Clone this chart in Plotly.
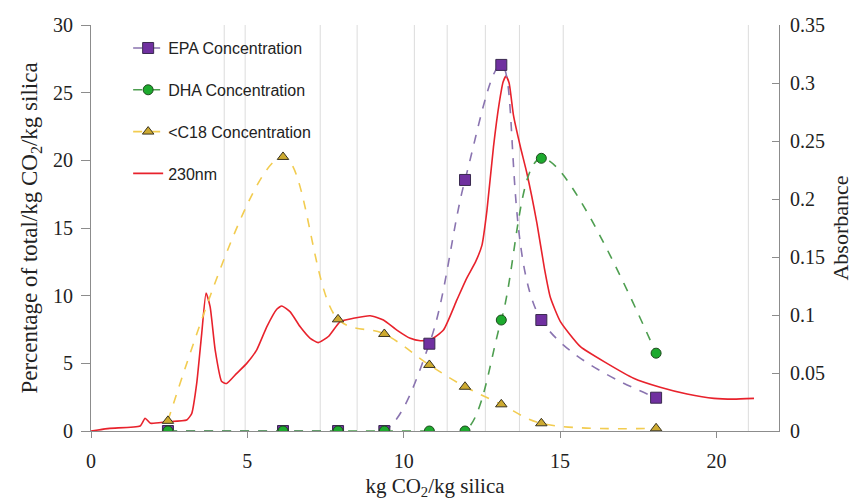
import plotly.graph_objects as go

# Sample positions (kg CO2 / kg silica)
sample_x = [2.46, 6.14, 7.90, 9.38, 10.82, 11.96, 13.12, 14.40, 18.07]

epa_pct = [0, 0, 0, 0, 6.45, 18.55, 27.05, 8.2, 2.46]
dha_pct = [0, 0, 0, 0, 0, 0, 8.2, 20.15, 5.75]
c18_pct = [0.75, 20.25, 8.25, 7.17, 4.88, 3.27, 1.97, 0.57, 0.2]

# 230 nm absorbance trace
abs_x = [0.0, 0.6, 1.57, 1.73, 1.9, 2.42, 3.06, 3.22, 3.38, 3.54, 3.68, 3.81, 3.97,
         4.18, 4.34, 4.66, 4.98, 5.3, 5.62, 5.94, 6.1, 6.37, 6.69, 7.01, 7.27, 7.6,
         7.97, 8.39, 8.93, 9.35, 9.78, 10.21, 10.53, 10.85, 11.27, 11.7, 12.0, 12.3,
         12.5, 12.66, 12.87, 13.05, 13.18, 13.27, 13.37, 13.51, 13.73, 13.94, 14.26,
         14.5, 14.69, 15.01, 15.65, 16.5, 17.35, 18.2, 19.06, 19.92, 20.55, 21.2]
abs_y = [0.0, 0.0023, 0.0043, 0.011, 0.0067, 0.008, 0.0095, 0.015, 0.041, 0.084,
         0.119, 0.107, 0.070, 0.0426, 0.041, 0.0497, 0.0583, 0.070, 0.0898, 0.105,
         0.1078, 0.1027, 0.0898, 0.0799, 0.0762, 0.0817, 0.0943, 0.0972, 0.0994,
         0.0957, 0.087, 0.0799, 0.0778, 0.0785, 0.087, 0.113, 0.131, 0.146, 0.160,
         0.190, 0.245, 0.282, 0.301, 0.306, 0.300, 0.272, 0.245, 0.222, 0.179,
         0.140, 0.115, 0.0943, 0.0727, 0.0583, 0.0455, 0.0377, 0.0319, 0.0281,
         0.0275, 0.0281]

# Irregular vertical gridlines of the original chart
grid_x = [4.26, 4.93, 7.33, 8.51, 10.34, 11.39, 12.61, 13.70, 15.10, 21.02]

serif = "Liberation Serif, Times New Roman, serif"
sans = "Liberation Sans, Arial, sans-serif"
txt = "#222222"
axc = "#8C8C8C"

fig = go.Figure()

fig.add_trace(go.Scatter(
    x=abs_x, y=abs_y, name="230nm", mode="lines", yaxis="y",
    line=dict(color="#E8222C", width=1.6, shape="spline", smoothing=0.5),
    legendgroup="d", legendrank=4))

fig.add_trace(go.Scatter(
    x=sample_x, y=epa_pct, name="EPA Concentration", mode="lines+markers", yaxis="y2",
    line=dict(color="#8A74B0", width=1.6, dash="dash", shape="spline", smoothing=1),
    marker=dict(symbol="square", size=11, color="#7030A0", line=dict(color="#3A2A50", width=1)),
    legendgroup="a", legendrank=1))

fig.add_trace(go.Scatter(
    x=sample_x, y=dha_pct, name="DHA Concentration", mode="lines+markers", yaxis="y2",
    line=dict(color="#4E9E50", width=1.6, dash="dash", shape="spline", smoothing=1),
    marker=dict(symbol="circle", size=10, color="#1DAA2E", line=dict(color="#1E4A1E", width=1)),
    legendgroup="b", legendrank=2))

fig.add_trace(go.Scatter(
    x=sample_x, y=c18_pct, name="<C18 Concentration", mode="lines+markers", yaxis="y2",
    line=dict(color="#F2CC50", width=1.6, dash="dash", shape="spline", smoothing=1),
    marker=dict(symbol="triangle-up", size=10, color="#CDAA30", line=dict(color="#3A3420", width=1)),
    legendgroup="c", legendrank=3))

shapes = [dict(type="line", xref="x", yref="paper", x0=g, x1=g, y0=0, y1=1,
               line=dict(color="#DCDCDC", width=1), layer="below") for g in grid_x]

fig.update_layout(
    width=860, height=492,
    margin=dict(l=83, r=89, t=17, b=69, autoexpand=False),
    paper_bgcolor="white", plot_bgcolor="white",
    shapes=shapes,
    showlegend=True,
    legend=dict(x=0.054, y=0.985, xanchor="left", yanchor="top",
                font=dict(family=sans, size=16, color=txt),
                traceorder="grouped", tracegroupgap=18, itemwidth=30,
                bgcolor="rgba(0,0,0,0)"),
    xaxis=dict(range=[0, 22], tickvals=[0, 5, 10, 15, 20], showgrid=False, zeroline=False,
               automargin=False,
               showline=True, linecolor=axc, linewidth=1, ticks="outside", ticklen=6,
               tickcolor=axc, tickfont=dict(family=serif, size=20, color=txt), ticklabelstandoff=6,
               title=dict(text="kg CO<sub>2</sub>/kg silica", font=dict(family=serif, size=21, color=txt),
                          standoff=12)),
    yaxis=dict(range=[0, 0.35], tickvals=[0, 0.05, 0.1, 0.15, 0.2, 0.25, 0.3, 0.35],
               ticktext=["0", "0.05", "0.1", "0.15", "0.2", "0.25", "0.3", "0.35"],
               automargin=False,
               side="right", showgrid=False, zeroline=False, showline=True,
               linecolor=axc, linewidth=1, ticks="inside", ticklen=7, tickcolor=axc,
               tickfont=dict(family=serif, size=20, color=txt), ticklabelstandoff=6,
               title=dict(text="Absorbance", font=dict(family=serif, size=22, color=txt), standoff=8)),
    yaxis2=dict(range=[0, 30], tickvals=[0, 5, 10, 15, 20, 25, 30], overlaying="y", side="left",
                automargin=False,
                showgrid=False, zeroline=False, showline=True, linecolor=axc, linewidth=1,
                ticks="outside", ticklen=9, tickcolor=axc,
                tickfont=dict(family=serif, size=20, color=txt), ticklabelstandoff=4,
                title=dict(text="Percentage of total/kg CO<sub>2</sub>/kg silica",
                           font=dict(family=serif, size=23, color=txt), standoff=8)),
)

fig.write_html("out.html")
